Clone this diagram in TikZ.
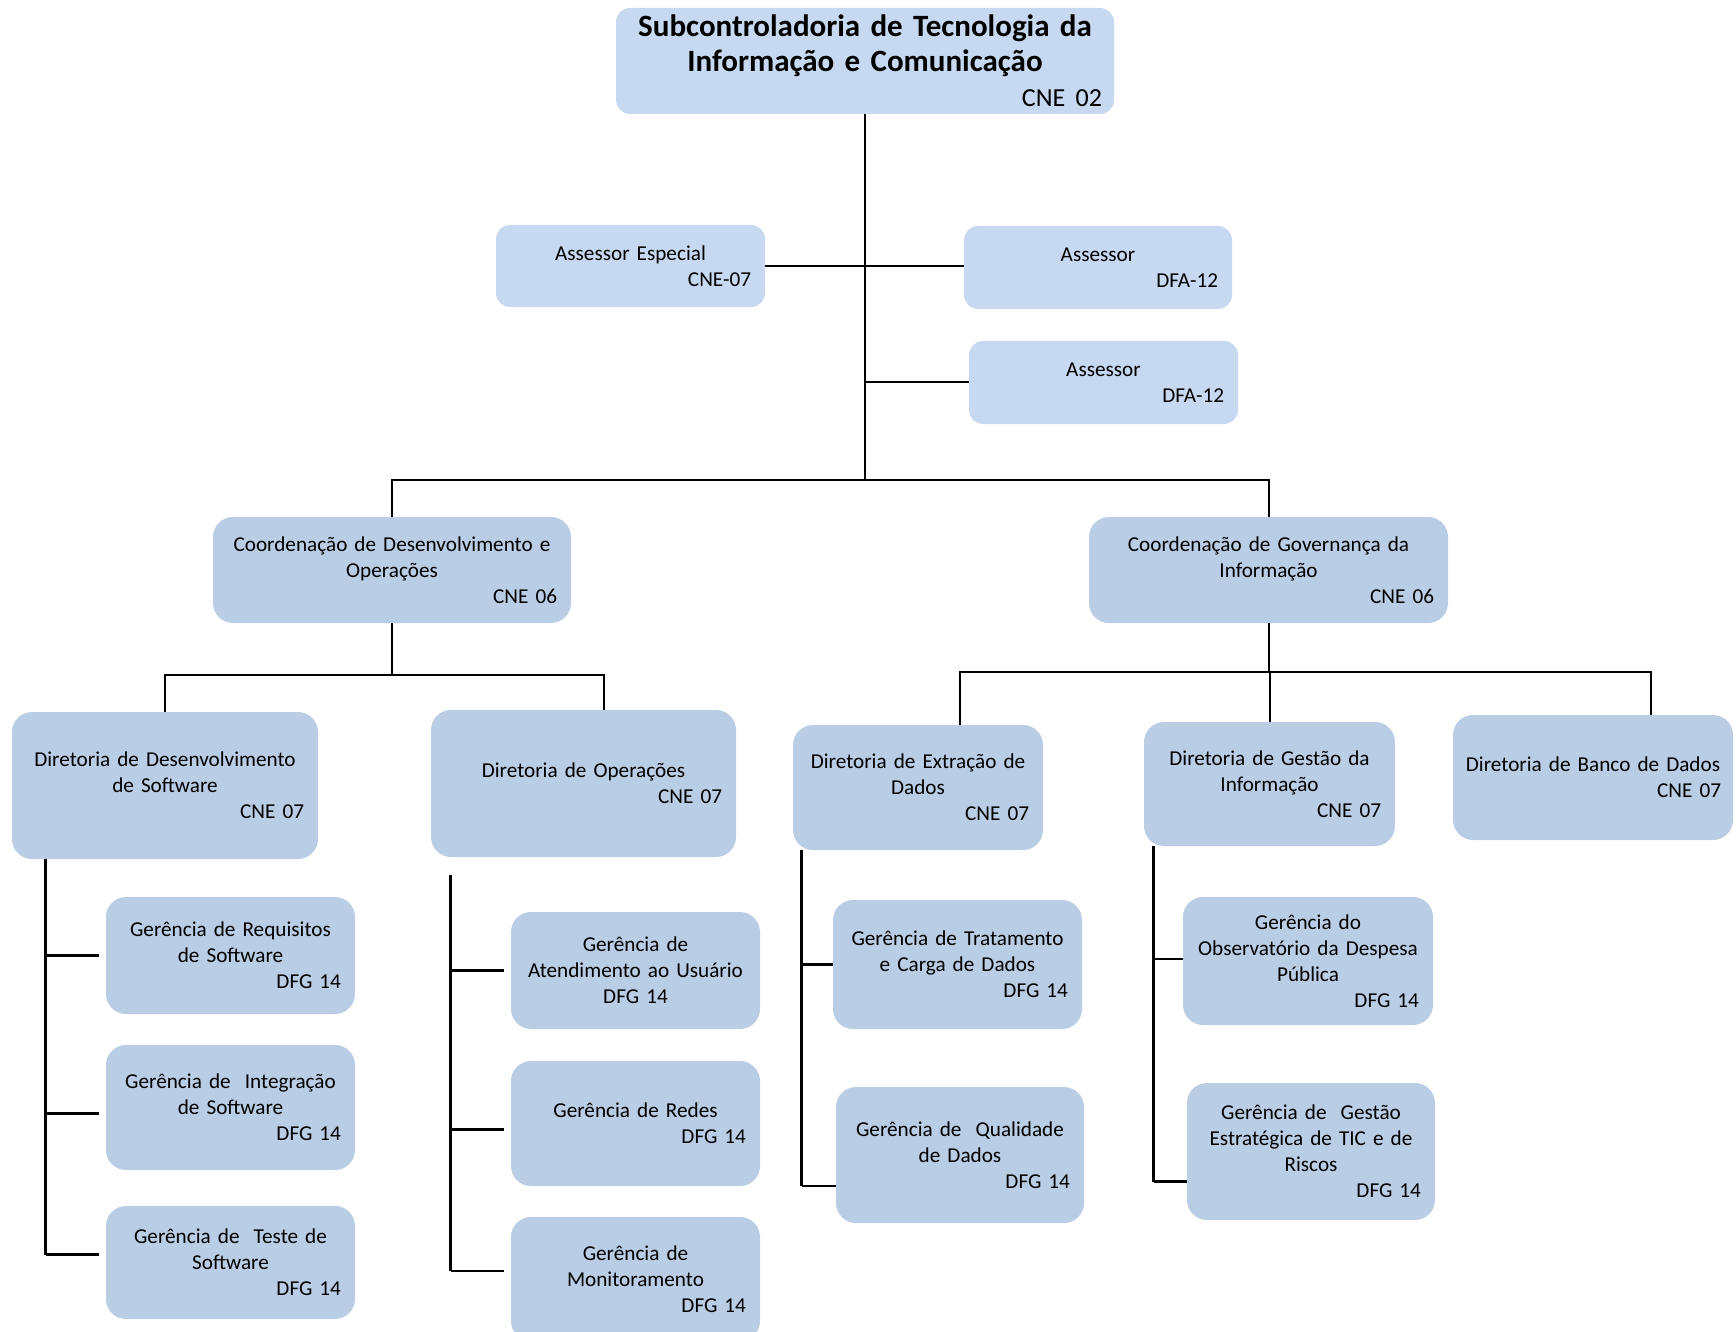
\documentclass[tikz,border=0pt]{standalone}
\usepackage{fontspec}
\setmainfont{Carlito}
\usepackage{tikz}
\usepackage{xcolor}
\definecolor{boxblue}{HTML}{B9CDE5}
\definecolor{topblue}{HTML}{C6D9F1}
\newcommand{\orgfont}{\fontsize{10.6}{13}\selectfont}
\newcommand{\orgcode}[1]{\hspace*{\fill}#1}
\tikzset{
    org-box/.style = {fill=boxblue, rectangle, rounded corners=10pt, inner sep=0pt, align=center, font=\orgfont},
    org-box-top/.style = {org-box, fill=topblue, rounded corners=7pt},
    org-line/.style = {draw=black, line width=1pt},
    org-branch/.style = {draw=black, line width=1.4pt},
}

\begin{document}
\begin{tikzpicture}[x=0.5pt, y=-0.5pt]
\clip (0,0) rectangle (1736,1332);

% top level
\node[org-box-top, minimum width=249pt, minimum height=53pt, text width=237pt,
      font=\fontsize{15.5}{17.6}\selectfont\bfseries] (top) at (865,61)
    {Subcontroladoria de Tecnologia da\\Informação e Comunicação\\\orgcode{\mdseries\fontsize{13}{17.6}\selectfont CNE 02}};
\node[org-box-top, minimum width=134.5pt, minimum height=41pt, text width=120.5pt] (asEsp) at (630.5,266)
    {Assessor Especial\\\orgcode{CNE-07}};
\node[org-box-top, minimum width=134pt, minimum height=41.5pt, text width=120pt] (as1) at (1098,267.5)
    {Assessor\\\orgcode{DFA-12}};
\node[org-box-top, minimum width=134.5pt, minimum height=41.5pt, text width=120.5pt] (as2) at (1103.5,382.5)
    {Assessor\\\orgcode{DFA-12}};

% coordenacoes
\node[org-box, minimum width=179pt, minimum height=53pt, text width=165pt] (coordDes) at (392,570)
    {Coordenação de Desenvolvimento e\\Operações\\\orgcode{CNE 06}};
\node[org-box, minimum width=179.5pt, minimum height=53pt, text width=165.5pt] (coordGov) at (1268.5,570)
    {Coordenação de Governança da\\Informação\\\orgcode{CNE 06}};

% diretorias
\node[org-box, minimum width=153pt, minimum height=73.5pt, text width=139pt] (dirDes) at (165,785.5)
    {Diretoria de Desenvolvimento\\de Software\\\orgcode{CNE 07}};
\node[org-box, minimum width=152.5pt, minimum height=73.5pt, text width=138.5pt] (dirOp) at (583.5,783.5)
    {Diretoria de Operações\\\orgcode{CNE 07}};
\node[org-box, minimum width=125pt, minimum height=62.5pt, text width=111pt] (dirExt) at (918,787.5)
    {Diretoria de Extração de\\Dados\\\orgcode{CNE 07}};
\node[org-box, minimum width=125.5pt, minimum height=62pt, text width=111.5pt] (dirGes) at (1269.5,784)
    {Diretoria de Gestão da\\Informação\\\orgcode{CNE 07}};
\node[org-box, minimum width=140pt, minimum height=62.5pt, text width=128pt] (dirBan) at (1593,777.5)
    {Diretoria de Banco de Dados\\\orgcode{CNE 07}};

% gerencias
\node[org-box, minimum width=124.5pt, minimum height=58.5pt, text width=110.5pt] (req) at (230.5,955.5)
    {Gerência de Requisitos\\de Software\\\orgcode{DFG 14}};
\node[org-box, minimum width=124.5pt, minimum height=62.5pt, text width=110.5pt] (integ) at (230.5,1107.5)
    {Gerência de~ Integração\\de Software\\\orgcode{DFG 14}};
\node[org-box, minimum width=124.5pt, minimum height=56.5pt, text width=110.5pt] (teste) at (230.5,1262.5)
    {Gerência de~ Teste de\\Software\\\orgcode{DFG 14}};
\node[org-box, minimum width=124.5pt, minimum height=58.5pt, text width=110.5pt] (atend) at (635.5,970.5)
    {Gerência de\\Atendimento ao Usuário\\DFG 14};
\node[org-box, minimum width=124.5pt, minimum height=62.5pt, text width=110.5pt] (redes) at (635.5,1123.5)
    {Gerência de Redes\\\orgcode{DFG 14}};
\node[org-box, minimum width=124.5pt, minimum height=62pt, text width=110.5pt] (monit) at (635.5,1279)
    {Gerência de\\Monitoramento\\\orgcode{DFG 14}};
\node[org-box, minimum width=124.5pt, minimum height=64.5pt, text width=110.5pt] (trat) at (957.5,964.5)
    {Gerência de Tratamento\\e Carga de Dados\\\orgcode{DFG 14}};
\node[org-box, minimum width=124pt, minimum height=68pt, text width=110pt] (qual) at (960,1155)
    {Gerência de~ Qualidade\\de Dados\\\orgcode{DFG 14}};
\node[org-box, minimum width=125pt, minimum height=64pt, text width=111pt] (obs) at (1308,961)
    {Gerência do\\Observatório da Despesa\\Pública\\\orgcode{DFG 14}};
\node[org-box, minimum width=124pt, minimum height=68.5pt, text width=110pt] (gest) at (1311,1151.5)
    {Gerência de~ Gestão\\Estratégica de TIC e de\\Riscos\\\orgcode{DFG 14}};

% upper tree
\path (top.south) ++(0,366) coordinate (jTop);
\draw[org-line] (top.south) -- (jTop);
\draw[org-line] (coordDes.north) |- (jTop) -| (coordGov.north);
\draw[org-line] (asEsp.east) -- (asEsp.east -| as1.west);
\draw[org-line] (as2.west) -- (as2.west -| top.south);

% coordenacao -> diretorias
\path (coordDes.south) ++(0,52) coordinate (jDes);
\draw[org-line] (coordDes.south) -- (jDes);
\draw[org-line] (dirDes.north) |- (jDes) -| ([xshift=10pt]dirOp.north);
\path (coordGov.south) ++(0,49) coordinate (jGov);
\draw[org-line] (coordGov.south) -- (jGov);
\draw[org-line] ([xshift=21pt]dirExt.north) |- (jGov) -| ([xshift=29pt]dirBan.north);
\draw[org-line] (dirGes.north) -- (dirGes.north |- jGov);

% diretoria -> gerencias
\coordinate (tDes) at ([xshift=17pt]dirDes.south west);
\foreach \g/\dy in {req/0pt, integ/-3pt, teste/4pt}
    \coordinate (b-\g) at ([yshift=\dy]\g.west);
\draw[org-branch] (tDes) -- (tDes |- b-teste);
\foreach \g in {req, integ, teste}
    \draw[org-branch, shorten >=3.5pt] (tDes |- b-\g) -- (b-\g);

\coordinate (tOp) at ([xshift=10pt, yshift=-9pt]dirOp.south west);
\foreach \g/\dy in {atend/0pt, redes/-3pt, monit/4pt}
    \coordinate (b-\g) at ([yshift=\dy]\g.west);
\draw[org-branch] (tOp) -- (tOp |- b-monit);
\foreach \g in {atend, redes, monit}
    \draw[org-branch, shorten >=3.5pt] (tOp |- b-\g) -- (b-\g);

\coordinate (tExt) at ([xshift=4.5pt]dirExt.south west);
\foreach \g/\dy in {trat/0pt, qual/-15.5pt}
    \coordinate (b-\g) at ([yshift=\dy]\g.west);
\draw[org-branch] (tExt) -- (tExt |- b-qual);
\foreach \g in {trat, qual}
    \draw[org-branch] (tExt |- b-\g) -- (b-\g);

\coordinate (tGes) at ([xshift=5pt]dirGes.south west);
\foreach \g/\dy in {obs/1pt, gest/-15pt}
    \coordinate (b-\g) at ([yshift=\dy]\g.west);
\draw[org-branch] (tGes) -- (tGes |- b-gest);
\foreach \g in {obs, gest}
    \draw[org-branch] (tGes |- b-\g) -- (b-\g);
\end{tikzpicture}
\end{document}
